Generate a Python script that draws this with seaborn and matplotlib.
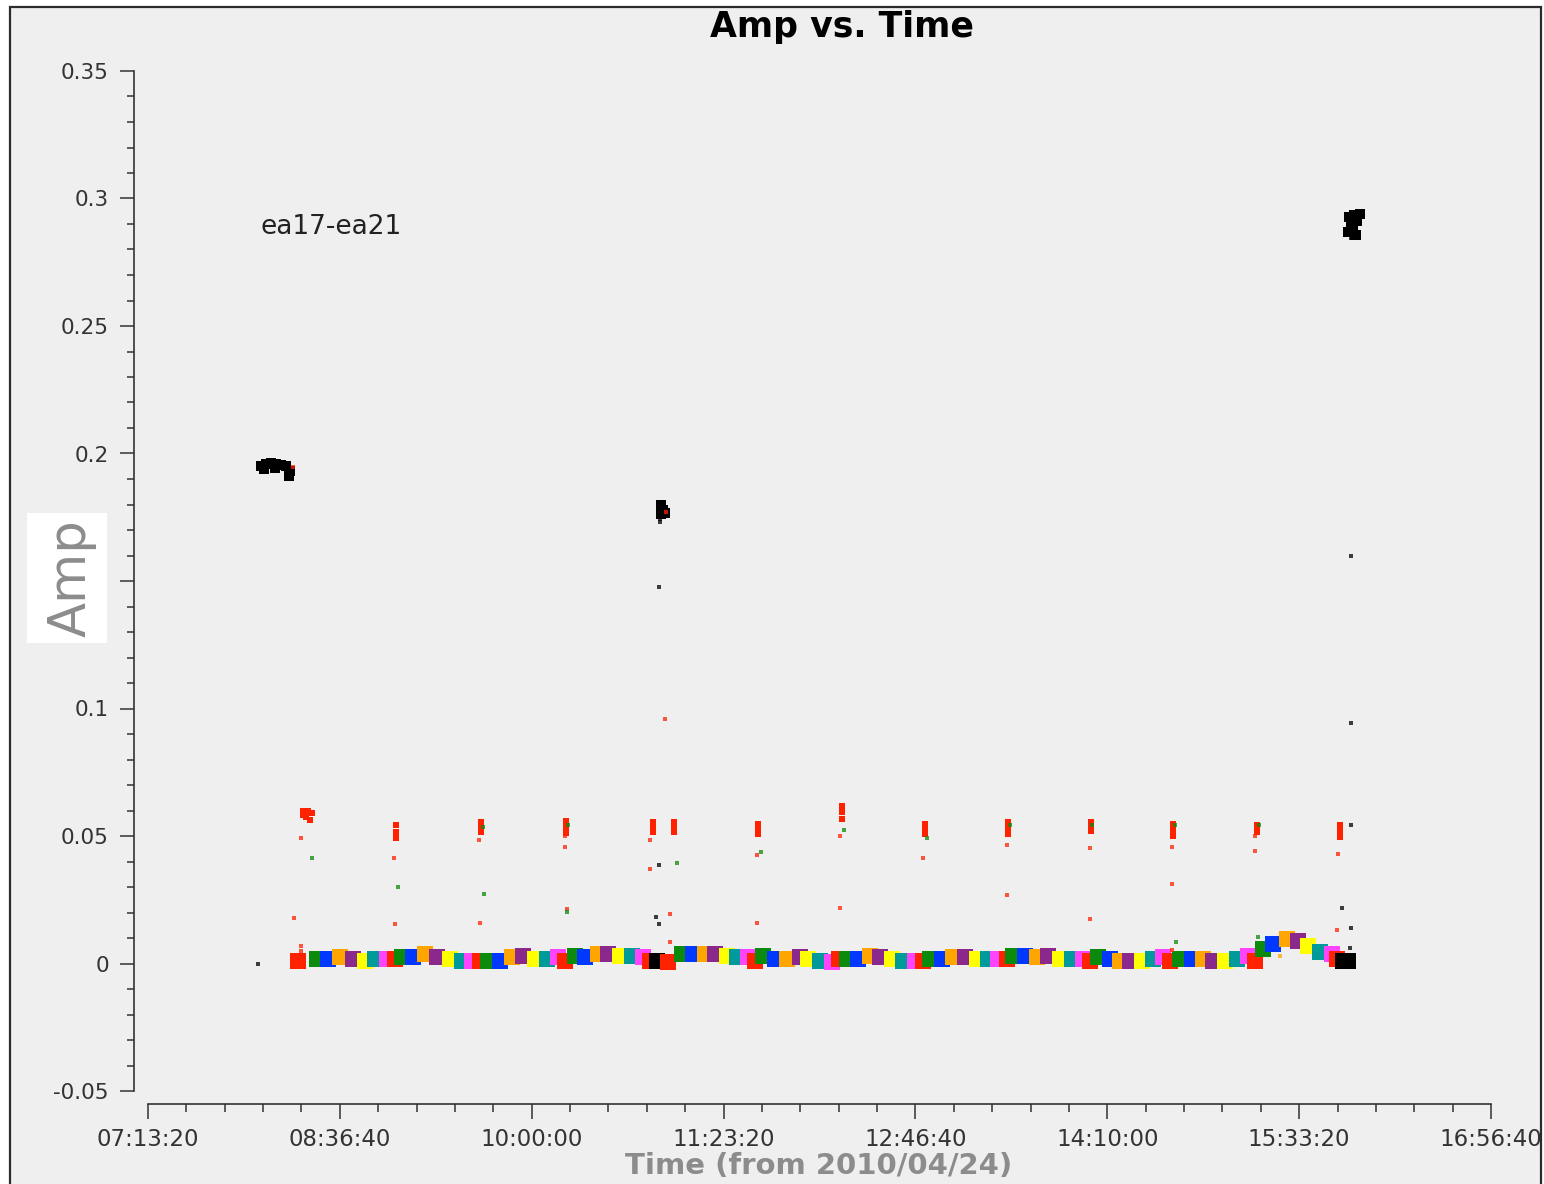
import matplotlib
matplotlib.use("Agg")
import matplotlib.pyplot as plt
import seaborn as sns
import pandas as pd
from matplotlib.patches import Rectangle
from matplotlib.ticker import FuncFormatter, FixedLocator, MultipleLocator

# ---- data -------------------------------------------------------------
# target-source visibilities (one entry per integration block), coloured by scan
base_time = [
    "08:18:29", "08:26:44", "08:31:30", "08:36:43", "08:42:22", "08:47:34", "08:51:55", "08:57:08",
    "09:00:36", "09:03:38", "09:08:25", "09:13:38", "09:18:50", "09:24:29", "09:29:42", "09:34:02",
    "09:37:31", "09:40:59", "09:46:12", "09:51:25", "09:56:11", "10:01:24", "10:06:37", "10:11:23",
    "10:14:26", "10:18:47", "10:23:07", "10:28:46", "10:33:07", "10:38:19", "10:43:32", "10:48:19",
    "10:51:21", "10:54:23", "10:59:10", "11:05:15", "11:10:01", "11:15:14", "11:19:35", "11:24:47",
    "11:29:08", "11:33:55", "11:36:57", "11:40:25", "11:45:38", "11:50:51", "11:56:29", "11:59:58",
    "12:05:11", "12:10:23", "12:13:26", "12:16:55", "12:21:41", "12:26:53", "12:31:14", "12:36:27",
    "12:41:14", "12:46:26", "12:49:55", "12:52:57", "12:58:10", "13:02:56", "13:08:09", "13:13:22",
    "13:18:08", "13:22:29", "13:26:23", "13:29:00", "13:34:13", "13:39:25", "13:44:12", "13:49:25",
    "13:54:37", "13:59:24", "14:02:26", "14:05:55", "14:11:08", "14:15:28", "14:19:49", "14:25:01",
    "14:29:48", "14:34:08", "14:37:11", "14:41:32", "14:46:44", "14:51:31", "14:55:52", "15:01:04",
    "15:06:17", "15:11:04", "15:14:06", "15:17:34", "15:21:55", "15:28:00", "15:32:47", "15:37:07",
    "15:42:20", "15:47:32", "15:49:43", "15:52:20", "15:54:50",
]
base_amp = [
    0.0010, 0.0018, 0.0018, 0.0025, 0.0018, 0.0010, 0.0018, 0.0018,
    0.0018, 0.0025, 0.0025, 0.0037, 0.0025, 0.0018, 0.0010, 0.0010,
    0.0010, 0.0010, 0.0010, 0.0025, 0.0029, 0.0018, 0.0018, 0.0025,
    0.0010, 0.0029, 0.0025, 0.0037, 0.0037, 0.0029, 0.0029, 0.0025,
    0.0010, 0.0010, 0.0006, 0.0037, 0.0037, 0.0037, 0.0037, 0.0029,
    0.0025, 0.0025, 0.0010, 0.0029, 0.0018, 0.0018, 0.0025, 0.0018,
    0.0010, 0.0006, 0.0018, 0.0018, 0.0018, 0.0029, 0.0025, 0.0018,
    0.0010, 0.0010, 0.0010, 0.0018, 0.0018, 0.0025, 0.0025, 0.0018,
    0.0018, 0.0018, 0.0018, 0.0029, 0.0029, 0.0025, 0.0029, 0.0018,
    0.0018, 0.0018, 0.0010, 0.0025, 0.0018, 0.0010, 0.0010, 0.0010,
    0.0018, 0.0025, 0.0010, 0.0018, 0.0018, 0.0018, 0.0010, 0.0010,
    0.0018, 0.0029, 0.0010, 0.0057, 0.0076, 0.0096, 0.0088, 0.0069,
    0.0045, 0.0037, 0.0018, 0.0010, 0.0010,
]
base_colour = [
    "r", "g", "b", "o", "p", "y", "t", "m",
    "r", "g", "b", "o", "p", "y", "t", "m",
    "r", "g", "b", "o", "p", "y", "t", "m",
    "r", "g", "b", "o", "p", "y", "t", "m",
    "r", "k", "r", "g", "b", "o", "p", "y",
    "t", "m", "r", "g", "b", "o", "p", "y",
    "t", "m", "r", "g", "b", "o", "p", "y",
    "t", "m", "r", "g", "b", "o", "p", "y",
    "t", "m", "r", "g", "b", "o", "p", "y",
    "t", "m", "r", "g", "b", "o", "p", "y",
    "t", "m", "r", "g", "b", "o", "p", "y",
    "t", "m", "r", "g", "b", "o", "p", "y",
    "t", "m", "r", "k", "k",
]

# bright flux calibrator scans (black)
flux_time = [
    "08:02:25", "08:04:35", "08:06:45", "08:08:55", "08:11:05", "08:13:16", "08:15:00", "08:14:34",
    "08:03:43", "08:08:29",
    "10:56:08", "10:57:00", "10:56:08", "10:57:52",
    "15:55:22", "15:57:32", "15:59:43", "15:56:14", "15:58:24", "15:56:40", "15:54:56", "15:57:58",
]
flux_amp = [
    0.1951, 0.1959, 0.1963, 0.1959, 0.1955, 0.1951, 0.1931, 0.1912,
    0.1939, 0.1943,
    0.1798, 0.1778, 0.1763, 0.1767,
    0.2927, 0.2935, 0.2939, 0.2904, 0.2912, 0.2880, 0.2869, 0.2857,
]

# phase calibrator scans (red)
phase_time = [
    "08:20:39", "08:22:49", "08:24:34", "08:21:57", "08:23:41", "08:20:39",
    "09:01:02", "09:01:02", "09:01:02",
    "09:37:57", "09:37:57", "09:37:57",
    "10:14:52", "10:14:52", "10:14:52",
    "10:52:39", "10:52:39", "10:52:39",
    "11:01:46", "11:01:46", "11:01:46",
    "11:38:15", "11:38:15", "11:38:15",
    "12:14:44", "12:14:44", "12:14:44",
    "12:50:47", "12:50:47", "12:50:47",
    "13:26:50", "13:26:50", "13:26:50",
    "14:02:52", "14:02:52", "14:02:52",
    "14:38:29", "14:38:29", "14:38:29",
    "15:14:58", "15:14:58", "15:14:58",
    "15:51:01", "15:51:01", "15:51:01",
]
phase_amp = [
    0.0598, 0.0598, 0.0590, 0.0575, 0.0563, 0.0582,
    0.0543, 0.0516, 0.0492,
    0.0555, 0.0535, 0.0516,
    0.0559, 0.0535, 0.0512,
    0.0555, 0.0535, 0.0516,
    0.0555, 0.0535, 0.0516,
    0.0547, 0.0527, 0.0508,
    0.0618, 0.0594, 0.0567,
    0.0547, 0.0527, 0.0508,
    0.0555, 0.0531, 0.0508,
    0.0555, 0.0535, 0.0520,
    0.0547, 0.0524, 0.0500,
    0.0543, 0.0531, 0.0518,
    0.0543, 0.0520, 0.0496,
]

# isolated outlying samples
stray_time = [
    # red
    "08:16:44", "08:19:47", "08:19:47", "08:19:47", "08:16:18", "09:00:10", "09:00:36",
    "09:37:05", "09:37:31", "10:14:26", "10:14:26", "10:15:18", "10:51:21", "10:51:21",
    "10:57:52", "10:58:18", "11:00:02", "11:00:02", "11:37:49", "11:37:49", "12:13:52",
    "12:13:52", "12:49:55", "13:26:23", "13:26:23", "14:02:26", "14:02:26", "14:38:03",
    "14:38:03", "14:38:03", "15:14:06", "15:14:06", "15:50:09", "15:49:43",
    # green
    "08:24:34", "09:01:55", "09:39:16", "10:15:18", "11:03:04", "11:39:33", "12:15:36",
    "12:51:39", "14:39:47", "15:15:24", "09:38:49", "10:15:44", "13:27:42", "14:03:19",
    "14:39:22", "15:15:50",
    # black
    "08:01:06", "10:55:41", "10:55:41", "10:55:15", "10:53:57", "10:55:15", "10:55:15",
    "15:55:48", "15:55:48", "15:55:48", "15:51:53", "15:55:48", "15:55:22", "15:55:48",
    # orange
    "15:24:58",
]
stray_amp = [
    0.0178, 0.0069, 0.0049, 0.0492, 0.1947, 0.0414, 0.0155,
    0.0484, 0.0159, 0.0500, 0.0457, 0.0214, 0.0484, 0.0371,
    0.0959, 0.1771, 0.0194, 0.0084, 0.0425, 0.0159, 0.0500,
    0.0218, 0.0414, 0.0465, 0.0269, 0.0453, 0.0175, 0.0457,
    0.0312, 0.0053, 0.0500, 0.0441, 0.0429, 0.0131,
    0.0414, 0.0300, 0.0273, 0.0202, 0.0394, 0.0437, 0.0524,
    0.0492, 0.0084, 0.0104, 0.0535, 0.0543, 0.0543, 0.0543,
    0.0543, 0.0543,
    -0.0002, 0.1743, 0.1731, 0.1476, 0.0182, 0.0155, 0.0386,
    0.1598, 0.0943, 0.0543, 0.0218, 0.0139, 0.0061, 0.2845,
    0.0029,
]
stray_colour = ["r"] * 34 + ["g"] * 16 + ["k"] * 14 + ["o"]

baseline_label = "ea17-ea21"
date_label = "2010/04/24"
time_start, time_end = "07:13:20", "16:56:40"

palette = {
    "g": "#0b8a0b", "b": "#0038ff", "o": "#ffa500", "p": "#8b288b",
    "y": "#ffff00", "t": "#009a9a", "m": "#ff44ff", "r": "#ff2200", "k": "#000000",
}


def to_seconds(hms):
    h, m, s = (int(v) for v in hms.split(":"))
    return h * 3600 + m * 60 + s


def hms_fmt(v, _pos=None):
    v = int(round(v))
    return f"{v // 3600:02d}:{(v % 3600) // 60:02d}:{v % 60:02d}"


def amp_fmt(v, _pos=None):
    if abs(v - 0.15) < 1e-9:
        return ""          # hidden behind the axis-title box
    return f"{v:g}" if abs(v) > 1e-9 else "0"


base_df = pd.DataFrame({"time": [to_seconds(t) for t in base_time],
                        "amp": base_amp, "colour": base_colour})
flux_df = pd.DataFrame({"time": [to_seconds(t) for t in flux_time],
                        "amp": flux_amp, "colour": "k"})
phase_df = pd.DataFrame({"time": [to_seconds(t) for t in phase_time],
                         "amp": phase_amp, "colour": "r"})
stray_df = pd.DataFrame({"time": [to_seconds(t) for t in stray_time],
                         "amp": stray_amp, "colour": stray_colour})

# ---- figure -----------------------------------------------------------
W, H = 1544, 1184
fig = plt.figure(figsize=(W / 100, H / 100), dpi=100)
fig.patch.set_facecolor("white")
fig.patches.append(Rectangle((10 / W, -0.05), (1541 - 10) / W, 1.05 - 7 / H,
                             transform=fig.transFigure, facecolor="#efefef",
                             edgecolor="#2b2b2b", linewidth=1.6, zorder=-10))

ax = fig.add_axes([148 / W, 1 - 1091 / H, (1491 - 148) / W, (1091 - 71) / H])
ax.set_facecolor("none")

sns.scatterplot(data=base_df, x="time", y="amp", hue="colour", palette=palette,
                marker="s", s=125, linewidth=0, legend=False, ax=ax, zorder=3)
sns.scatterplot(data=flux_df, x="time", y="amp", hue="colour", palette=palette,
                marker="s", s=60, linewidth=0, legend=False, ax=ax, zorder=3)
sns.scatterplot(data=phase_df, x="time", y="amp", hue="colour", palette=palette,
                marker="s", s=22, linewidth=0, legend=False, ax=ax, zorder=3)
sns.scatterplot(data=stray_df, x="time", y="amp", hue="colour", palette=palette,
                marker="s", s=7, linewidth=0, alpha=0.75, legend=False, ax=ax, zorder=3)

t0, t1 = to_seconds(time_start), to_seconds(time_end)
ax.set_xlim(t0, t1)
ax.set_ylim(-0.05, 0.35)
ax.xaxis.set_major_locator(FixedLocator(list(range(t0, t1 + 1, 5000))))
ax.xaxis.set_minor_locator(FixedLocator(list(range(t0, t1 + 1, 1000))))
ax.xaxis.set_major_formatter(FuncFormatter(hms_fmt))
ax.yaxis.set_major_locator(MultipleLocator(0.05))
ax.yaxis.set_minor_locator(MultipleLocator(0.01))
ax.yaxis.set_major_formatter(FuncFormatter(amp_fmt))
ax.set_xlabel("")
ax.set_ylabel("")

for side in ("top", "right"):
    ax.spines[side].set_visible(False)
ax.spines["left"].set_position(("outward", 14 * 0.72))
ax.spines["bottom"].set_position(("outward", 13 * 0.72))
for side in ("left", "bottom"):
    ax.spines[side].set_color("#333333")
    ax.spines[side].set_linewidth(1.2)

ax.tick_params(axis="y", which="major", length=10, width=1.1, color="#333333",
               labelsize=15.5, labelcolor="#333333", pad=8)
ax.tick_params(axis="y", which="minor", length=5, width=1.1, color="#333333")
ax.tick_params(axis="x", which="major", length=10.5, width=1.1, color="#333333",
               labelsize=16.5, labelcolor="#333333", pad=6.5)
ax.tick_params(axis="x", which="minor", length=5.5, width=1.1, color="#333333")

# titles and labels
fig.text(842 / W, 1 - 27 / H, "Amp vs. Time", fontsize=25, fontweight="bold",
         ha="center", va="center", color="black")
fig.text(261 / W, 1 - 227 / H, baseline_label, fontsize=19, ha="left",
         va="center", color="#222222")
fig.text(819 / W, 1 - 1166 / H, f"Time (from {date_label})", fontsize=21,
         fontweight="bold", ha="center", va="center", color="#8c8c8c")
fig.patches.append(Rectangle((27 / W, 1 - 643 / H), 80 / W, 130 / H,
                             transform=fig.transFigure, facecolor="white",
                             edgecolor="none", zorder=2))
fig.text(72 / W, 1 - 578 / H, "Amp", fontsize=37, rotation=90, ha="center",
         va="center", color="#8c8c8c", zorder=3)

fig.savefig("out.png", dpi=100)
